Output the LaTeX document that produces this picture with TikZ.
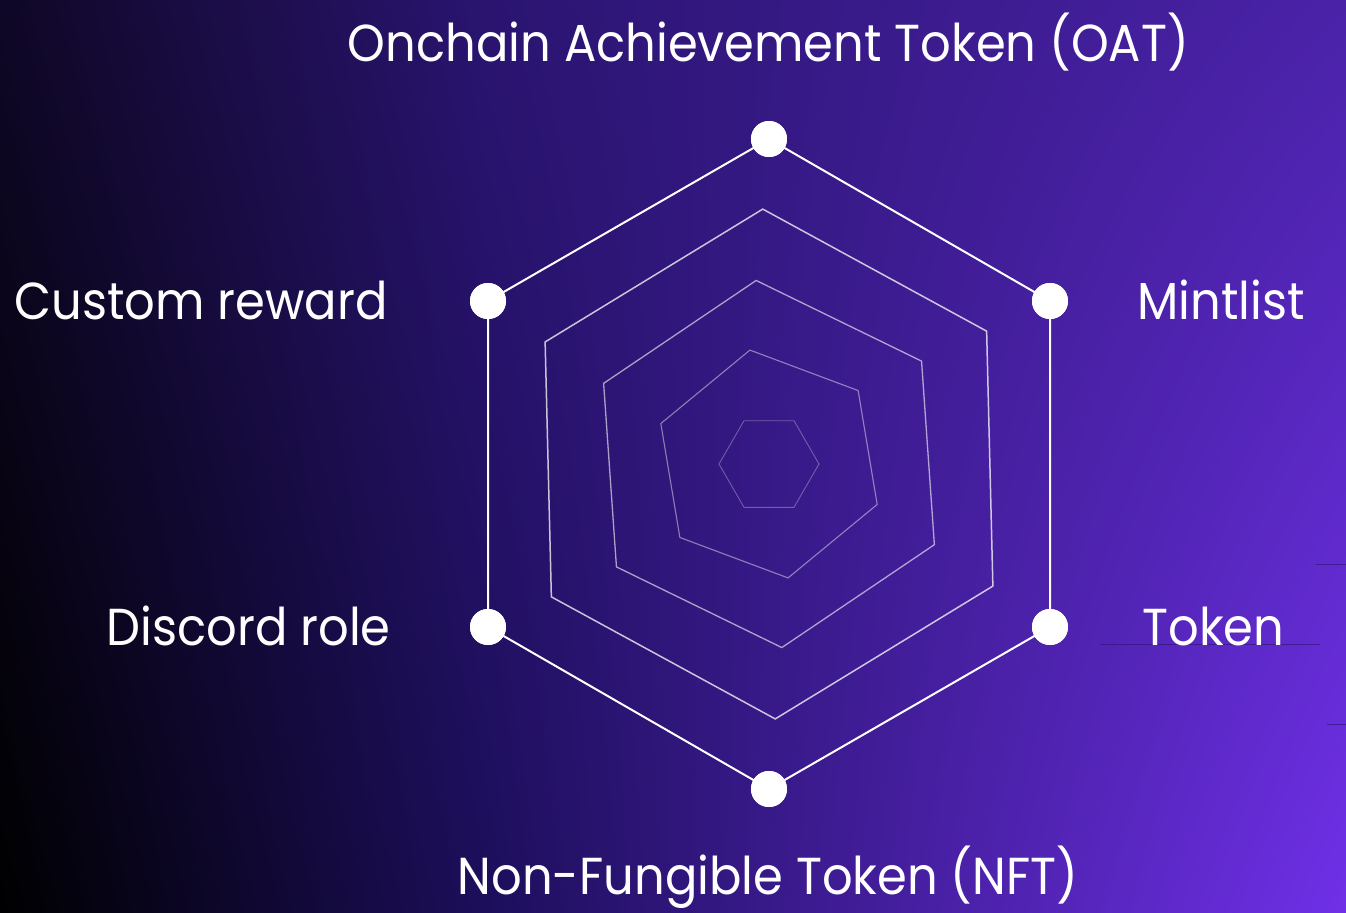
\documentclass[tikz,border=0pt]{standalone}
\usepackage{fontspec}
\setmainfont{Poppins}
\usetikzlibrary{shadings,calc}
\newcommand{\lbltxt}[1]{\scalebox{0.923}[1]{#1}}
\begin{document}
\begin{tikzpicture}[x=0.5pt,y=-0.5pt,
  lbl/.style={text=white,font=\fontsize{26}{30}\selectfont,inner sep=0pt},
  dot/.style={circle,fill=white,draw=none,minimum size=18pt,inner sep=0pt},
  ring/.style={draw=white,line join=miter}]
\definecolor{cUL}{HTML}{0F0726}
\definecolor{cUM}{HTML}{2A1470}
\definecolor{cUR}{HTML}{4A22A8}
\definecolor{cLL}{HTML}{000000}
\definecolor{cLM}{HTML}{1C0E5A}
\definecolor{cLR}{HTML}{7030E8}
\definecolor{seam}{HTML}{2A1270}
\useasboundingbox (0,0) rectangle (1346,912);
\shade[upper left=cUL,upper right=cUM,lower left=cLL,lower right=cLM] (0,0) rectangle (481,912);
\shade[upper left=cUM,upper right=cUR,lower left=cLM,lower right=cLR] (480,0) rectangle (1346,912);
% faint seams at the right edge
\draw[seam,line width=0.5pt,opacity=0.6] (1316,564) -- (1346,564);
\draw[seam,line width=0.5pt,opacity=0.6] (1100,644) -- (1320,644);
\draw[seam,line width=0.5pt,opacity=0.6] (1327,724) -- (1346,724);
\coordinate (c) at (769,464);
% inner rings
\draw[ring,line width=0.45pt,opacity=0.3] ($(c)+(0:50)$) \foreach \k in {1,...,5}{ -- ($(c)+(-60*\k:50)$)} -- cycle;
\draw[ring,line width=0.55pt,opacity=0.45] ($(c)+(-99.5:115.5)$) \foreach \k in {1,...,5}{ -- ($(c)+(-99.5-60*\k:115.5)$)} -- cycle;
\draw[ring,line width=0.65pt,opacity=0.6] ($(c)+(-94:184)$) \foreach \k in {1,...,5}{ -- ($(c)+(-94-60*\k:184)$)} -- cycle;
\draw[ring,line width=0.75pt,opacity=0.75] ($(c)+(-91.4:255)$) \foreach \k in {1,...,5}{ -- ($(c)+(-91.4-60*\k:255)$)} -- cycle;
% outer hexagon vertices
\node[dot] (oat) at (769,139) {};
\node[dot] (mint) at (1050,301) {};
\node[dot] (tok) at (1050,627) {};
\node[dot] (nft) at (769,789) {};
\node[dot] (disc) at (488,627) {};
\node[dot] (cust) at (488,301) {};
\draw[white,line width=1pt] (oat.center) -- (mint.center) -- (tok.center) -- (nft.center) -- (disc.center) -- (cust.center) -- cycle;
\node[dot] at (oat) {};
\node[dot] at (mint) {};
\node[dot] at (tok) {};
\node[dot] at (nft) {};
\node[dot] at (disc) {};
\node[dot] at (cust) {};
% labels
\node[lbl,anchor=base] (loat) at (768.5,61) {\lbltxt{Onchain Achievement Token (OAT)}};
\node[lbl,anchor=base west] (lmint) at (1137,319) {\lbltxt{Mintlist}};
\node[lbl,anchor=base west] (ltok) at (1142,645) {\lbltxt{Token}};
\node[lbl,anchor=base] (lnft) at (768,894) {\lbltxt{Non-Fungible Token (NFT)}};
\node[lbl,anchor=base east] (ldisc) at (391,645) {\lbltxt{Discord role}};
\node[lbl,anchor=base east] (lcust) at (388,319) {\lbltxt{Custom reward}};
\end{tikzpicture}
\end{document}
